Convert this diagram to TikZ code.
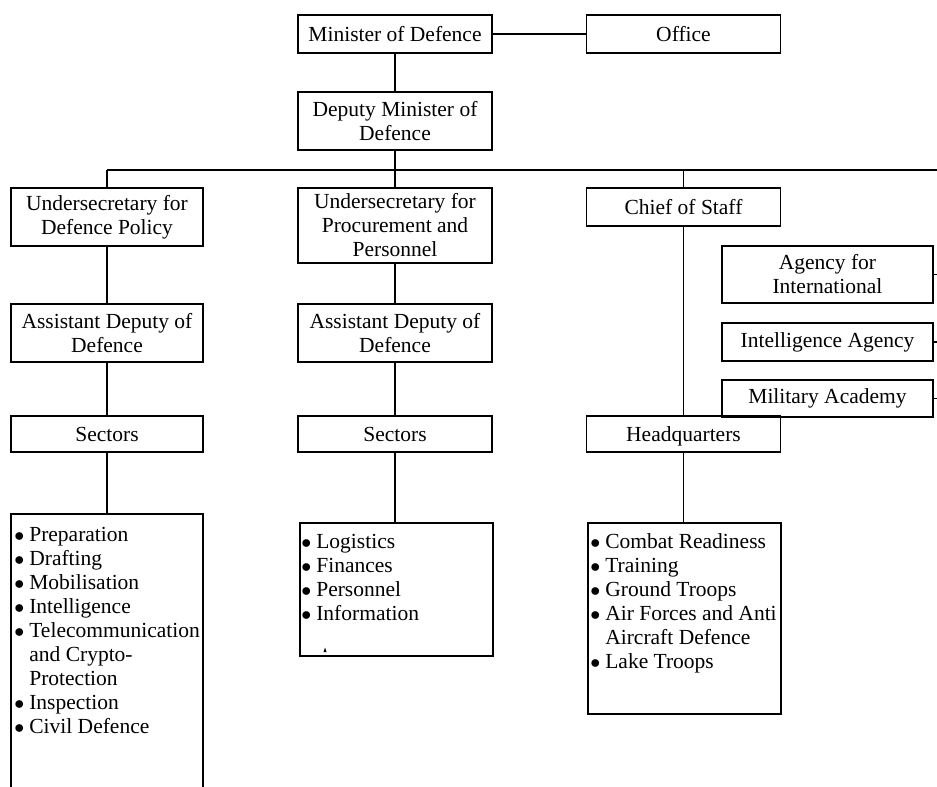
\documentclass[tikz,border=0pt]{standalone}
\usepackage{fontspec}
\setmainfont{Liberation Serif}
\usetikzlibrary{positioning}

\newcommand{\itm}{$\bullet$}

\tikzset{
  box/.style={draw, line width=1pt, align=center, inner sep=0pt,
    minimum width=116.4pt, minimum height=22.8pt,
    font=\fontsize{12.9}{14.4}\selectfont},
  twoline/.style={box, minimum height=34.8pt},
  sidebox/.style={box, minimum width=126.6pt},
  listbox/.style={draw, line width=1pt, inner sep=0pt, anchor=north west},
  items/.style={inner sep=0pt, anchor=north west, align=left,
    font=\fontsize{12.9}{14.4}\selectfont},
  conn/.style={line width=1pt},
}

\begin{document}
\begin{tikzpicture}[x=0.6pt,y=-0.6pt]
\useasboundingbox (0,0) rectangle (937,787);

% top of the ministry
\node[box] (minister) at (395,34) {Minister of Defence};
\node[box] (office) at (683.5,34) {Office};
\node[twoline] (deputy) at (395,121) {Deputy Minister of\\Defence};
\coordinate (busL) at (107,170);
\coordinate (busR) at (937,170);

% second level
\node[twoline, minimum width=115.2pt] (uspol) at (107,217) {Undersecretary for\\Defence Policy};
\node[box, minimum height=45pt] (usproc) at (395,225.5) {Undersecretary for\\Procurement and\\Personnel};
\node[box] (chief) at (683.5,207) {Chief of Staff};

\node[twoline, minimum width=115.2pt] (asst1) at (107,333) {Assistant Deputy of\\Defence};
\node[twoline] (asst2) at (395,333) {Assistant Deputy of\\Defence};

\node[box, minimum width=115.2pt, minimum height=21.6pt] (sect1) at (107,434) {Sectors};
\node[box, minimum height=21.6pt] (sect2) at (395,434) {Sectors};
\node[box, minimum height=21.6pt, text depth=0pt] (hq) at (683.5,434) {Headquarters};

% agencies under the chief of staff
\node[sidebox, minimum height=34.2pt] (agency) at (827.5,274.5) {Agency for\\International};
\node[sidebox] (intel) at (827.5,342) {Intelligence Agency};
\node[sidebox, minimum height=22.2pt] (academy) at (827.5,398.5) {Military Academy};

% lists of sectors
\coordinate (list1) at (107,514);
\draw[conn] (11,787) |- (203,514) -- (203,787);
\node[items] (items1) at (14,524.4) {%
  \begin{tabular}{@{}l@{\hspace{3pt}}l@{}}
  \itm & Preparation\\
  \itm & Drafting\\
  \itm & Mobilisation\\
  \itm & Intelligence\\
  \itm & Telecommunication\\
   & and Crypto-\\
   & Protection\\
  \itm & Inspection\\
  \itm & Civil Defence
  \end{tabular}};

\node[listbox, minimum width=115.8pt, minimum height=79.8pt] (list2) at (299,522) {};
\node[items] (items2) at (301,531) {%
  \begin{tabular}{@{}l@{\hspace{3pt}}l@{}}
  \itm & Logistics\\
  \itm & Finances\\
  \itm & Personnel\\
  \itm & Information
  \end{tabular}};
\fill (323.5,652) -- (326.5,652) -- (325,647.5) -- cycle;

\node[listbox, minimum width=115.8pt, minimum height=114.6pt] (list3) at (587,522) {};
\node[items] (items3) at (590,531) {%
  \begin{tabular}{@{}l@{\hspace{3pt}}l@{}}
  \itm & Combat Readiness\\
  \itm & Training\\
  \itm & Ground Troops\\
  \itm & Air Forces and Anti\\
   & Aircraft Defence\\
  \itm & Lake Troops
  \end{tabular}};

% connectors
\draw[conn] (minister) -- (office);
\draw[conn] (minister) -- (deputy);
\draw[conn] (deputy.south) -- (deputy.south |- busL);
\draw[conn] (busL) -- (busR);
\draw[conn] (busL) -- (uspol);
\draw[conn] (usproc.north) -- (usproc.north |- busL);
\draw[conn] (chief.north) -- (chief.north |- busL);
\draw[conn] (uspol) -- (asst1);
\draw[conn] (asst1) -- (sect1);
\draw[conn] (sect1) -- (list1);
\draw[conn] (usproc) -- (asst2);
\draw[conn] (asst2) -- (sect2);
\draw[conn] (sect2) -- (list2.north -| sect2);
\draw[conn] (chief) -- (hq);
\draw[conn] (hq) -- (list3.north -| hq);
\draw[conn] (agency.east) -- (agency.east -| busR);
\draw[conn] (intel.east) -- (intel.east -| busR);
\draw[conn] (academy.east) -- (academy.east -| busR);
\end{tikzpicture}
\end{document}
